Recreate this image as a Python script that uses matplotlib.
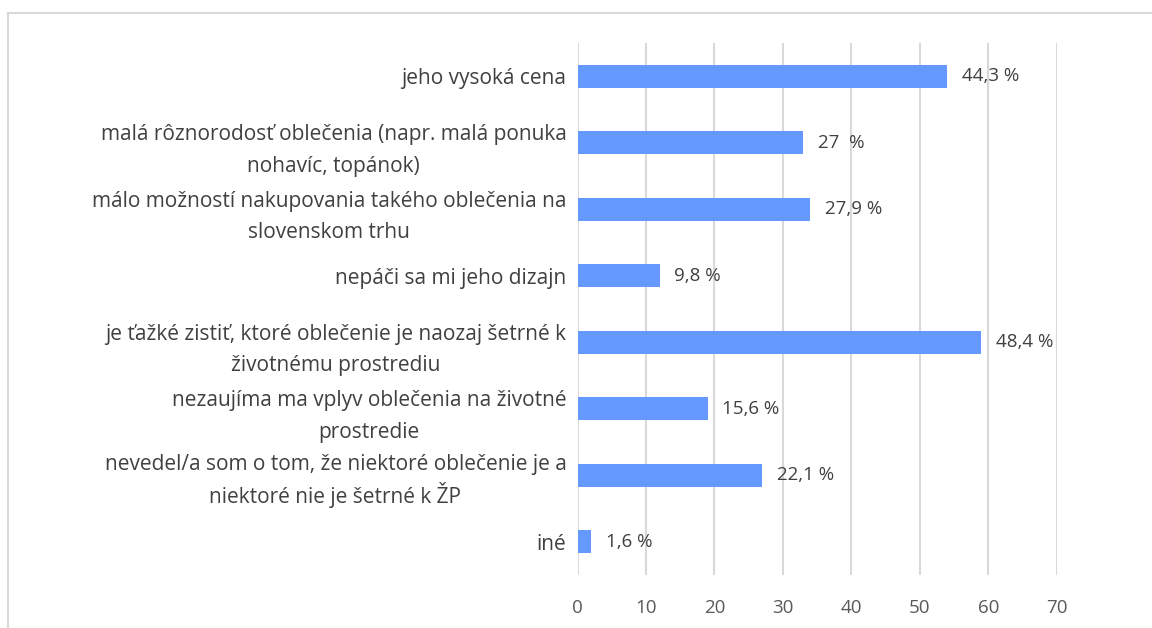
import matplotlib.pyplot as plt
from matplotlib.patches import Rectangle

categories = [
    'jeho vysoká cena',
    'malá rôznorodosť oblečenia (napr. malá ponuka\nnohavíc, topánok)',
    'málo možností nakupovania takého oblečenia na\nslovenskom trhu',
    'nepáči sa mi jeho dizajn',
    'je ťažké zistiť, ktoré oblečenie je naozaj šetrné k\nživotnému prostrediu',
    'nezaujíma ma vplyv oblečenia na životné\nprostredie',
    'nevedel/a som o tom, že niektoré oblečenie je a\nniektoré nie je šetrné k ŽP',
    'iné',
]
# bar lengths as drawn on the axis
values = [54, 33, 34, 12, 59, 19, 27, 2]
# data labels as printed next to the bars
labels = ['44,3 %', '27  %', '27,9 %', '9,8 %', '48,4 %', '15,6 %', '22,1 %', '1,6 %']
ticks = [0, 10, 20, 30, 40, 50, 60, 70]

plt.rcParams['font.family'] = ['Open Sans', 'DejaVu Sans']

fig = plt.figure(figsize=(11.52, 6.28), dpi=100)
ax = fig.add_axes([577.5 / 1152, 1 - 575 / 628, (1056.7 - 577.5) / 1152, (575 - 43) / 628])

# chart frame
fig.patches.append(Rectangle((8 / 1152, -0.1), 1.2, 1 - 13 / 628 + 0.1,
                             transform=fig.transFigure, fill=False,
                             edgecolor='#d9d9d9', linewidth=1.5))

y = list(range(len(categories)))
ax.barh(y, values, height=0.35, color='#6699ff', zorder=3)
for yi, v, lab in zip(y, values, labels):
    ax.text(v + 2.1, yi, lab, va='center', ha='left', fontsize=13.5, color='#404040')

ax.set_ylim(len(categories) - 0.5, -0.5)
ax.set_xlim(0, 70)
ax.set_xticks(ticks)
ax.set_yticks(y)
ticklabels = ax.set_yticklabels(categories, multialignment='center', linespacing=1.66)
# the caron on Ž makes that line taller, so tighten it to keep equal spacing
ticklabels[6].set_linespacing(1.32)
ax.tick_params(axis='y', length=0, pad=8, labelsize=15, labelcolor='#404040')
ax.tick_params(axis='x', length=0, pad=17, labelsize=13.5, labelcolor='#595959')
ax.grid(axis='x', color='#d9d9d9', linewidth=1.5, zorder=0)
for s in ax.spines.values():
    s.set_visible(False)

fig.savefig('out.png', dpi=100)
